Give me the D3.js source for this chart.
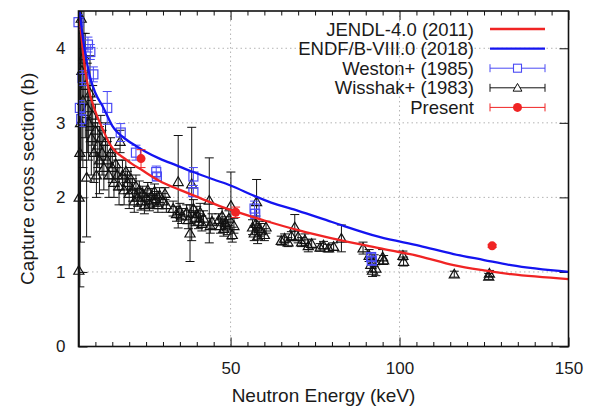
<!DOCTYPE html>
<html>
<head>
<meta charset="utf-8">
<script src="https://cdn.jsdelivr.net/npm/d3@7"></script>
<style>
  body { margin: 0; background: #fff; }
  text { font-family: "Liberation Sans", Arial, sans-serif; fill: #1a1a1a; }
</style>
</head>
<body>
<svg></svg>
<script>
// Capture cross section vs neutron energy, evaluated libraries and measurements.
var width = 593,
    height = 406;

// Evaluated curves: [energy keV, cross section b]
var jendl = [
  [5.2, 4.5], [6, 4.1], [7, 3.7], [8, 3.45], [10, 3.15], [12.3, 2.9], [14.2, 2.72],
  [19.3, 2.5], [24, 2.36], [29, 2.22], [35, 2.1], [41, 1.99], [47, 1.88], [53, 1.79],
  [60, 1.69], [70, 1.56], [80, 1.45], [94, 1.32], [106, 1.21], [116, 1.09],
  [125, 1.02], [133, 0.97], [150, 0.905]
];
var endf = [
  [5.3, 4.5], [6.5, 4.08], [8.5, 3.6], [10, 3.4], [12.4, 3.2], [15, 2.96], [19, 2.78],
  [22, 2.69], [25, 2.61], [29, 2.52], [34, 2.43], [39, 2.34], [45, 2.24], [50, 2.16],
  [57, 2.02], [62, 1.93], [70, 1.82], [80, 1.67], [94, 1.47], [106, 1.35],
  [116, 1.24], [125, 1.16], [133, 1.09], [150, 1.0]
];

// Measurements: [energy keV, cross section b, error b]
var weston = [
  [5.0, 4.35, 0.1], [5.4, 3.2, 0.1], [5.8, 3.05, 0.1], [6.2, 3.6, 0.1],
  [7.8, 4.05, 0.1], [8.5, 3.95, 0.1], [9.4, 3.65, 0.1], [13.5, 3.2, 0.22],
  [17.5, 2.87, 0.12], [22, 2.6, 0.1], [28, 2.34, 0.08], [28.2, 2.28, 0.05],
  [39, 2.28, 0.12], [39, 2.07, 0.06], [57.1, 1.85, 0.1], [57.3, 1.78, 0.06],
  [91.6, 1.2, 0.05], [91.8, 1.15, 0.05]
];
var wisshak = [
  [5.1, 1.02, 3.4], [5.2, 2.0, 2.5], [5.4, 2.6, 1.8], [5.6, 3.0, 1.6], [5.8, 4.4, 0.6],
  [6.0, 3.7, 1.2], [6.3, 3.3, 0.9], [6.6, 3.9, 0.8], [7.0, 3.5, 0.7], [7.4, 2.27, 0.8],
  [7.6, 3.2, 0.6], [8.0, 3.0, 0.5], [8.4, 3.4, 0.5], [8.8, 2.8, 0.5], [9.2, 3.1, 0.4],
  [9.6, 2.6, 0.4], [10.0, 2.9, 0.35], [10.3, 2.3, 0.3], [10.7, 2.7, 0.3], [11.2, 2.5, 0.45],
  [11.6, 2.8, 0.3], [12.0, 2.6, 0.3], [12.5, 2.4, 0.3], [13.0, 2.75, 0.25], [13.5, 2.5, 0.25],
  [14.0, 2.3, 0.3], [14.5, 2.6, 0.2], [15.0, 2.4, 0.2], [15.5, 2.2, 0.2], [16.0, 2.45, 0.2],
  [16.5, 2.3, 0.2], [17.0, 2.15, 0.25], [17.3, 2.75, 0.15], [18.0, 2.3, 0.2], [18.5, 2.1, 0.2],
  [19.0, 2.35, 0.15], [19.5, 2.2, 0.15], [20.0, 2.05, 0.2], [20.5, 2.25, 0.15], [21.0, 2.1, 0.15],
  [21.5, 1.95, 0.15], [22.0, 2.15, 0.15], [22.5, 2.0, 0.12], [23.0, 2.1, 0.12], [23.5, 1.95, 0.12],
  [24.0, 2.05, 0.1], [24.5, 1.9, 0.12], [25.0, 2.0, 0.1], [25.5, 2.1, 0.1], [26.0, 1.92, 0.1],
  [26.5, 2.02, 0.1], [27.0, 1.95, 0.1], [27.5, 2.08, 0.1], [28.0, 1.98, 0.1], [28.5, 1.9, 0.1],
  [29.0, 2.03, 0.1], [30.0, 1.95, 0.1], [30.6, 2.05, 0.08], [31.0, 1.9, 0.1], [33.0, 1.85, 0.1],
  [34.0, 1.78, 0.1], [34.5, 2.21, 0.62], [35.0, 1.82, 0.1], [35.5, 1.75, 0.1], [37.0, 1.8, 0.1],
  [37.5, 1.7, 0.12], [38.0, 1.52, 0.38], [38.5, 2.18, 0.76], [39.0, 1.85, 0.12], [39.5, 1.72, 0.1],
  [40.0, 1.78, 0.1], [40.5, 1.68, 0.1], [41.0, 1.8, 0.12], [41.5, 1.65, 0.1], [42.0, 1.72, 0.1],
  [43.7, 1.96, 0.57], [44.0, 1.62, 0.1], [44.5, 1.68, 0.1], [46.5, 1.7, 0.08], [47.0, 1.62, 0.1],
  [47.5, 1.75, 0.1], [48.0, 1.58, 0.1], [48.5, 1.66, 0.08], [49.0, 1.6, 0.1], [49.5, 1.72, 0.1],
  [50.1, 1.89, 0.45], [50.5, 1.5, 0.1], [51.0, 1.62, 0.1], [56.5, 1.6, 0.1], [57.0, 1.52, 0.1],
  [57.5, 1.65, 0.1], [57.7, 1.94, 0.3], [58.0, 1.48, 0.1], [58.5, 1.58, 0.1], [59.0, 1.55, 0.1],
  [60.0, 1.5, 0.08], [60.5, 1.6, 0.08], [65.0, 1.42, 0.06], [66.0, 1.45, 0.06], [67.0, 1.4, 0.06],
  [68.0, 1.48, 0.06], [69.0, 1.6, 0.17], [70.0, 1.47, 0.08], [71.0, 1.4, 0.06], [72.0, 1.43, 0.08],
  [73.0, 1.35, 0.08], [74.0, 1.38, 0.06], [76.5, 1.33, 0.05], [77.5, 1.36, 0.05], [79.0, 1.32, 0.05],
  [80.5, 1.34, 0.05], [82.8, 1.45, 0.18], [89.2, 1.32, 0.08], [91.0, 1.22, 0.08], [91.5, 1.1, 0.1],
  [92.0, 1.02, 0.08], [92.5, 1.15, 0.08], [93.0, 1.05, 0.1], [95.0, 1.2, 0.1], [95.3, 1.16, 0.06],
  [101.0, 1.22, 0.06], [101.2, 1.14, 0.06], [116.2, 0.97, 0.04], [126.4, 0.94, 0.04], [126.6, 0.98, 0.04]
];
var present = [
  [23.5, 2.52, 0.12], [51.5, 1.8, 0.07], [127.4, 1.35, 0.02]
];

var xTicks = [50, 100, 150],
    xMinor = d3.range(10, 150, 5).filter(function(d) { return d % 50 !== 0; }),
    yTicks = [0, 1, 2, 3, 4];

var legendNames = ["JENDL-4.0 (2011)", "ENDF/B-VIII.0 (2018)", "Weston+ (1985)", "Wisshak+ (1983)", "Present"];

var RED = "#f02424", BLUE = "#1414f0", LBLUE = "#4a4af5";

var L = 78.5, R = 568.5, T = 11, B = 346.5;

var svg = d3.select("svg")
    .attr("width", width)
    .attr("height", height);

var x = d3.scaleLinear().domain([5, 150]).range([L, R]);
var y = d3.scaleLinear().domain([0, 4.5]).range([B, T]);

svg.append("defs").append("clipPath").attr("id", "plot")
  .append("rect").attr("x", L).attr("y", T).attr("width", R - L).attr("height", B - T);

// grid
var grid = svg.append("g").attr("stroke", "#b4b4b4").attr("stroke-dasharray", "1.5,3");
grid.selectAll(".gy").data([1, 2, 3, 4]).enter().append("line")
    .attr("x1", L).attr("x2", R)
    .attr("y1", function(d) { return y(d); }).attr("y2", function(d) { return y(d); });
grid.selectAll(".gx").data([50, 100]).enter().append("line")
    .attr("y1", T).attr("y2", B)
    .attr("x1", function(d) { return x(d); }).attr("x2", function(d) { return x(d); });

// axes (ticks inward)
function clean(g) {
  g.select(".domain").remove();
  g.selectAll("line").attr("stroke", "#111").attr("stroke-width", 1);
  g.selectAll("text").attr("font-size", 17).attr("fill", "#1a1a1a")
    .attr("font-family", "Liberation Sans, Arial, sans-serif");
}
svg.append("g").attr("transform", "translate(0," + B + ")")
    .call(d3.axisBottom(x).tickValues(xTicks).tickSize(-9).tickPadding(15).tickFormat(d3.format("d")))
    .call(clean);
svg.append("g").attr("transform", "translate(0," + B + ")")
    .call(d3.axisBottom(x).tickValues(xMinor).tickSize(-4.5).tickFormat(""))
    .call(clean);
svg.append("g").attr("transform", "translate(0," + T + ")")
    .call(d3.axisTop(x).tickValues(xTicks).tickSize(-9).tickFormat(""))
    .call(clean);
svg.append("g").attr("transform", "translate(0," + T + ")")
    .call(d3.axisTop(x).tickValues(xMinor).tickSize(-4.5).tickFormat(""))
    .call(clean);
svg.append("g").attr("transform", "translate(" + L + ",0)")
    .call(d3.axisLeft(y).tickValues(yTicks).tickSize(-9).tickPadding(13).tickFormat(d3.format("d")))
    .call(clean);
svg.append("g").attr("transform", "translate(" + R + ",0)")
    .call(d3.axisRight(y).tickValues(yTicks).tickSize(-9).tickFormat(""))
    .call(clean);

// error bars with caps
function errorBars(g, data, color, cap) {
  var eb = g.append("g").attr("clip-path", "url(#plot)")
      .attr("stroke", color).attr("stroke-width", 1).attr("fill", "none");
  eb.selectAll("path").data(data).enter().append("path")
      .attr("d", function(d) {
        var px = x(d[0]), y0 = y(d[1] - d[2]), y1 = y(d[1] + d[2]);
        return "M" + px + "," + y0 + "V" + y1 +
               "M" + (px - cap) + "," + y0 + "h" + (2 * cap) +
               "M" + (px - cap) + "," + y1 + "h" + (2 * cap);
      });
}

var tri = d3.symbol().type(d3.symbolTriangle).size(44);

// Wisshak
var gW = svg.append("g");
errorBars(gW, wisshak, "#111", 4.5);
gW.selectAll("path.pt").data(wisshak).enter().append("path")
    .attr("class", "pt")
    .attr("d", tri)
    .attr("transform", function(d) { return "translate(" + x(d[0]) + "," + (y(d[1]) + 0.9) + ")"; })
    .attr("fill", "none").attr("stroke", "#111").attr("stroke-width", 1.2);

// Weston
var gS = svg.append("g");
errorBars(gS, weston, LBLUE, 4.5);
gS.selectAll("rect").data(weston).enter().append("rect")
    .attr("x", function(d) { return x(d[0]) - 4.5; })
    .attr("y", function(d) { return y(d[1]) - 4.5; })
    .attr("width", 9).attr("height", 9)
    .attr("fill", "none").attr("stroke", LBLUE).attr("stroke-width", 1.2);

// evaluated curves
var line = d3.line()
    .x(function(d) { return x(d[0]); })
    .y(function(d) { return y(d[1]); })
    .curve(d3.curveMonotoneX);

var curves = svg.append("g").attr("clip-path", "url(#plot)").attr("fill", "none").attr("stroke-width", 2.3);
curves.append("path").datum(jendl).attr("d", line).attr("stroke", RED);
curves.append("path").datum(endf).attr("d", line).attr("stroke", BLUE);

// Present
var gP = svg.append("g");
errorBars(gP, present, RED, 4.5);
gP.selectAll("circle").data(present).enter().append("circle")
    .attr("cx", function(d) { return x(d[0]); })
    .attr("cy", function(d) { return y(d[1]); })
    .attr("r", 4.5).attr("fill", RED);

// frame
svg.append("rect").attr("x", L).attr("y", T).attr("width", R - L).attr("height", B - T)
    .attr("fill", "none").attr("stroke", "#111").attr("stroke-width", 1.6);

// axis titles
svg.append("text")
    .attr("x", (L + R) / 2).attr("y", 402)
    .attr("text-anchor", "middle").attr("font-size", 19)
    .text("Neutron Energy (keV)");
svg.append("text")
    .attr("transform", "translate(34," + ((T + B) / 2) + ") rotate(-90)")
    .attr("text-anchor", "middle").attr("font-size", 19)
    .text("Capture cross section (b)");

// legend
var legend = svg.append("g");
var lx0 = 490, lx1 = 545, ly0 = 29, ldy = 19.6;
legendNames.forEach(function(name, i) {
  var ly = ly0 + i * ldy;
  legend.append("text")
      .attr("x", 474).attr("y", ly + 6.6)
      .attr("text-anchor", "end").attr("font-size", 18.5)
      .text(name);
  var color = [RED, BLUE, LBLUE, "#111", RED][i];
  legend.append("line").attr("x1", lx0).attr("x2", lx1).attr("y1", ly).attr("y2", ly)
      .attr("stroke", color).attr("stroke-width", i < 2 ? 2.3 : 1);
  if (i >= 2) {
    legend.append("path")
        .attr("d", "M" + lx0 + "," + (ly - 4) + "v8M" + lx1 + "," + (ly - 4) + "v8")
        .attr("stroke", color).attr("stroke-width", 1);
  }
  var mx = (lx0 + lx1) / 2;
  if (i === 2) {
    legend.append("rect").attr("x", mx - 4).attr("y", ly - 4).attr("width", 8).attr("height", 8)
        .attr("fill", "#fff").attr("stroke", color).attr("stroke-width", 1.1);
  } else if (i === 3) {
    legend.append("path").attr("d", d3.symbol().type(d3.symbolTriangle).size(34))
        .attr("transform", "translate(" + mx + "," + (ly + 0.8) + ")")
        .attr("fill", "#fff").attr("stroke", color).attr("stroke-width", 1);
  } else if (i === 4) {
    legend.append("circle").attr("cx", mx).attr("cy", ly).attr("r", 4.5).attr("fill", color);
  }
});
</script>
</body>
</html>
